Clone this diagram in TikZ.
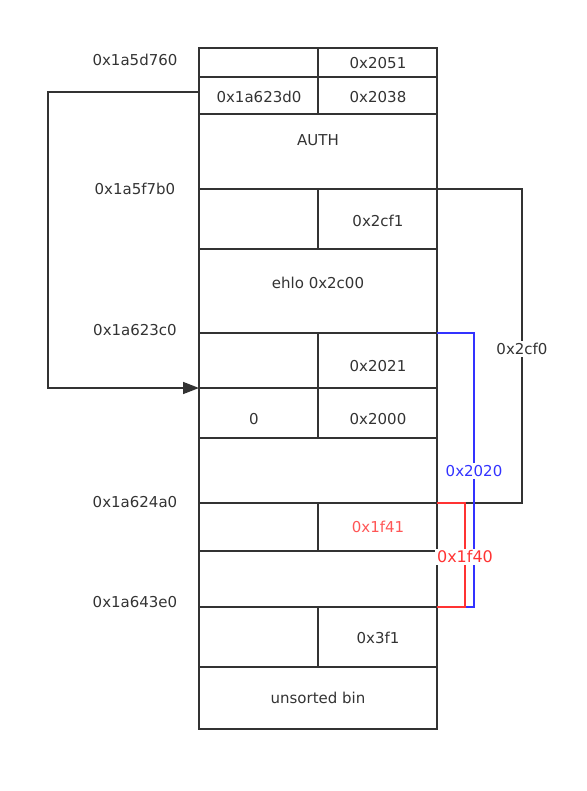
\documentclass[tikz,border=0pt]{standalone}
\usepackage{fontspec}
\setmainfont{DejaVu Sans}
\usetikzlibrary{arrows.meta}
\definecolor{ink}{HTML}{333333}
\definecolor{bl}{HTML}{3333FF}
\definecolor{rd}{HTML}{FF3333}
\definecolor{rdtxt}{HTML}{FF5555}
\begin{document}
\begin{tikzpicture}[x=1pt,y=-1pt,
  every node/.style={font=\fontsize{15}{17}\selectfont, text=ink, inner sep=1pt},
  cell/.style={draw=ink, line width=1.6pt},
  link/.style={draw=ink, line width=1.6pt},
  lbl/.style={fill=white, inner sep=2pt}]
\useasboundingbox (0,0) rectangle (586,791);

% outer chunk column and row separators
\draw[cell] (199,48) rectangle (437,729);
\foreach \yy in {77,114,189,249,333,388,438,503,551,607,667}
  \draw[cell] (199,\yy) -- (437,\yy);
% inner column separators
\draw[cell] (318,48) -- (318,114);
\draw[cell] (318,189) -- (318,249);
\draw[cell] (318,333) -- (318,438);
\draw[cell] (318,503) -- (318,551);
\draw[cell] (318,607) -- (318,667);

% anchors for the connectors
\coordinate (fdsrc) at (199,92);
\coordinate (fddst) at (199,388);
\coordinate (aTop) at (437,189);
\coordinate (aBot) at (437,503);
\coordinate (bTop) at (437,333);
\coordinate (bBot) at (437,607);
\coordinate (cTop) at (437,503);
\coordinate (cBot) at (437,607);

% cell contents
\node (c2051) at (378,63) {0x2051};
\node (cfd) at (259,97) {0x1a623d0};
\node (c2038) at (378,97) {0x2038};
\node (cauth) at (318,140) {AUTH};
\node (c2cf1) at (378,221) {0x2cf1};
\node (cehlo) at (318,283) {ehlo 0x2c00};
\node (c2021) at (378,366) {0x2021};
\node (czero) at (254,419) {0};
\node (c2000) at (378,419) {0x2000};
\node[text=rdtxt] (c1f41) at (378,527) {0x1f41};
\node (c3f1) at (378,638) {0x3f1};
\node (cbin) at (318,698) {unsorted bin};

% addresses on the left
\node (a1) at (135,60) {0x1a5d760};
\node (a2) at (135,189) {0x1a5f7b0};
\node (a3) at (135,330) {0x1a623c0};
\node (a4) at (135,502) {0x1a624a0};
\node (a5) at (135,602) {0x1a643e0};

% fd pointer
\draw[link, -{Triangle[length=16pt,width=12pt]}] (fdsrc) -- (48,92) -- (48,388) -- (fddst);

% size spans on the right
\draw[link] (aTop) -- (522,189) -- (522,503) -- (aBot);
\node[lbl] (l2cf0) at (522,349) {0x2cf0};
\draw[draw=bl, line width=1.6pt] (bTop) -- (474,333) -- (474,607) -- (bBot);
\node[lbl, text=bl] (l2020) at (474,471) {0x2020};
\draw[draw=rd, line width=1.6pt] (cTop) -- (465,503) -- (465,607) -- (cBot);
\node[lbl, text=rd, font=\fontsize{16}{18}\selectfont] (l1f40) at (465,557) {0x1f40};
\end{tikzpicture}
\end{document}
